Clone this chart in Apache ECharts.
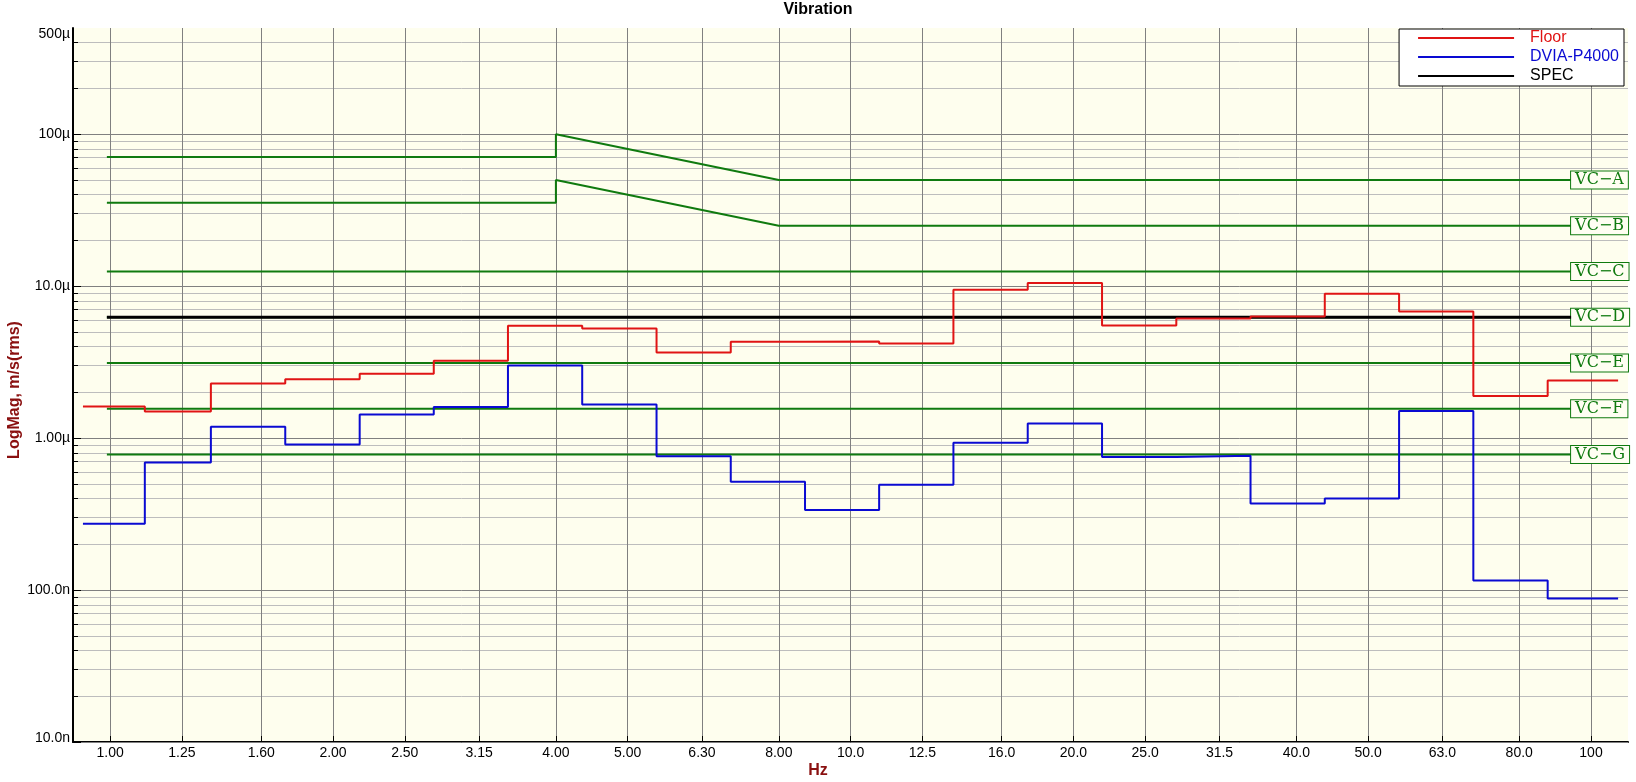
<!DOCTYPE html>
<html>
<head>
<meta charset="utf-8">
<script src="https://cdn.jsdelivr.net/npm/echarts@6/dist/echarts.min.js"></script>
<style>
html,body{margin:0;padding:0;background:#ffffff;}
#chart{width:1636px;height:782px;}
</style>
</head>
<body>
<div id="chart"></div>
<script>
// ---- data ----
// 1/3-octave nominal centre frequencies (Hz) and their tick labels
const bandHz = [1.00, 1.25, 1.60, 2.00, 2.50, 3.15, 4.00, 5.00, 6.30, 8.00, 10.0, 12.5, 16.0, 20.0, 25.0, 31.5, 40.0, 50.0, 63.0, 80.0, 100];
const bandLabels = ['1.00','1.25','1.60','2.00','2.50','3.15','4.00','5.00','6.30','8.00','10.0','12.5','16.0','20.0','25.0','31.5','40.0','50.0','63.0','80.0','100'];
// band step edges as drawn (Hz), 22 edges for 21 bands
const bandEdgesHz = [0.919, 1.114, 1.368, 1.724, 2.173, 2.736, 3.446, 4.341, 5.47, 6.89, 8.68, 10.93, 13.77, 17.35, 21.86, 27.54, 34.69, 43.7, 55.06, 69.36, 87.4, 108.8];
// band levels, µm/s rms
const floorUm = [1.615, 1.496, 2.287, 2.444, 2.649, 3.226, 5.48, 5.26, 3.66, 4.30, 4.33, 4.19, 9.46, 10.5, 5.50, 6.12, 6.31, 8.90, 6.81, 1.89, 2.39];
const dviaUm  = [0.273, 0.691, 1.186, 0.908, 1.429, 1.60, 3.00, 1.663, 0.761, 0.516, 0.3365, 0.493, 0.931, 1.247, 0.750, 0.765, 0.3715, 0.4005, 1.506, 0.1157, 0.0881];
// specification line and VC criteria curves: [Hz, µm/s]
const specCurve = [[0.99, 6.25], [94, 6.25]];
const vcNames = ['VC\u2212A', 'VC\u2212B', 'VC\u2212C', 'VC\u2212D', 'VC\u2212E', 'VC\u2212F', 'VC\u2212G'];
const vcA = [[0.99, 70.7], [4, 70.7], [4, 100], [8, 50], [94, 50]];
const vcB = [[0.99, 35.4], [4, 35.4], [4, 50], [8, 25], [94, 25]];
const vcC = [[0.99, 12.5], [94, 12.5]];
const vcD = [[0.99, 6.25], [94, 6.25]];
const vcE = [[0.99, 3.125], [94, 3.125]];
const vcF = [[0.99, 1.5625], [94, 1.5625]];
const vcG = [[0.99, 0.78], [94, 0.78]];
const vcCurves = [vcA, vcB, vcC, vcD, vcE, vcF, vcG];
// y axis ticks (m/s)
const yMajorValues = [1e-8, 1e-7, 1e-6, 1e-5, 1e-4];
const yLabelValues = [1e-8, 1e-7, 1e-6, 1e-5, 1e-4, 5e-4];
const yLabelTexts  = ['10.0n', '100.0n', '1.00\u00b5', '10.0\u00b5', '100\u00b5', '500\u00b5'];
const yMinorMultipliers = [2, 3, 4, 5, 6, 7, 8, 9];
const yMin = 1e-8, yMax = 5e-4;
const xMin = 0.891, xMax = 112.2;

// ---- build ----
const U = 1e-6;
const yMinorValues = [];
yMajorValues.forEach(d => yMinorMultipliers.forEach(m => { const v = +(d * m).toPrecision(3); if (v < yMax) yMinorValues.push(v); }));

function stepData(values) {
  const pts = bandEdgesHz.slice(0, values.length).map((f, i) => [f, values[i] * U]);
  pts.push([bandEdgesHz[values.length], values[values.length - 1] * U]);
  return pts;
}
const toSI = c => c.map(p => [p[0], p[1] * U]);

const GREEN = '#0f7a0f';
const RED = '#e01414';
const BLUE = '#0a0ad2';
const DARKRED = '#8a1010';
const FONT = '"Liberation Sans", Arial, sans-serif';

const series = [];
vcCurves.forEach((c, i) => {
  series.push({
    name: vcNames[i], type: 'line', data: toSI(c), showSymbol: false, symbol: 'none',
    lineStyle: { color: GREEN, width: 2 }, itemStyle: { color: GREEN }, z: 2,
    endLabel: {
      show: true, formatter: vcNames[i], distance: 0,
      color: GREEN, fontFamily: '"DejaVu Serif", serif', fontSize: 16,
      backgroundColor: '#fefef2', borderColor: GREEN, borderWidth: 1,
      padding: [1, 4, 0, 4]
    }
  });
});
series.push({
  name: 'SPEC', type: 'line', data: toSI(specCurve), showSymbol: false, symbol: 'none',
  lineStyle: { color: '#000', width: 3 }, itemStyle: { color: '#000' }, z: 3
});
series.push({
  name: 'Floor', type: 'line', step: 'end', data: stepData(floorUm), showSymbol: false, symbol: 'none',
  lineStyle: { color: RED, width: 2 }, itemStyle: { color: RED }, z: 4
});
series.push({
  name: 'DVIA-P4000', type: 'line', step: 'end', data: stepData(dviaUm), showSymbol: false, symbol: 'none',
  lineStyle: { color: BLUE, width: 2 }, itemStyle: { color: BLUE }, z: 5
});

function yLabel(val) {
  const i = yLabelValues.findIndex(v => Math.abs(Math.log10(v) - Math.log10(val)) < 1e-6);
  if (i < 0) return '';
  if (i === yLabelValues.length - 1) return '{top|' + yLabelTexts[i] + '}';
  if (i === 0) return '{bot|' + yLabelTexts[i] + '}';
  return yLabelTexts[i];
}
function xLabel(val) {
  const i = bandHz.findIndex(v => Math.abs(v - val) < 1e-6);
  return i < 0 ? '' : bandLabels[i];
}

const chart = echarts.init(document.getElementById('chart'), null, { renderer: 'canvas' });
chart.setOption({
  animation: false,
  backgroundColor: '#ffffff',
  textStyle: { fontFamily: FONT },
  title: [
    { text: 'Vibration', left: 'center', top: 2, padding: 0,
      textStyle: { fontSize: 16, fontWeight: 'bold', color: '#000', fontFamily: FONT } },
    { text: 'Hz', left: 'center', top: 763, padding: 0,
      textStyle: { fontSize: 16, fontWeight: 'bold', color: DARKRED, fontFamily: FONT } }
  ],
  legend: {
    data: [
      { name: 'Floor', textStyle: { color: RED } },
      { name: 'DVIA-P4000', textStyle: { color: BLUE } },
      { name: 'SPEC', textStyle: { color: '#000' } }
    ],
    orient: 'vertical', right: 12, top: 29,
    backgroundColor: '#ffffff', borderColor: '#000', borderWidth: 1, borderRadius: 0,
    padding: [1, 5, 2, 19], itemGap: 3, itemWidth: 96, itemHeight: 2, icon: 'rect',
    selectedMode: false,
    textStyle: { fontSize: 16, fontFamily: FONT, padding: [0, 0, 0, 11] }
  },
  grid: { left: 73, right: 8, top: 28, bottom: 40, show: true, backgroundColor: '#fefeee', borderWidth: 0,
    containLabel: false, outerBoundsMode: 'none' },
  xAxis: {
    type: 'log', logBase: 10, min: xMin, max: xMax,
    axisLine: { show: true, lineStyle: { color: '#000', width: 2 } },
    axisTick: { show: true, inside: true, length: 6, customValues: bandHz, lineStyle: { color: '#000', width: 1 } },
    axisLabel: { show: true, customValues: bandHz, formatter: xLabel, fontSize: 14, color: '#000', margin: 4, fontFamily: FONT },
    splitLine: { show: true, lineStyle: { color: '#808080', width: 1 } },
    minorTick: { show: false }, minorSplitLine: { show: false }
  },
  yAxis: [
    {
      type: 'log', logBase: 10, min: yMin, max: yMax, position: 'left', z: 1,
      name: 'LogMag, m/s(rms)', nameLocation: 'middle', nameGap: 50, nameMoveOverlap: false,
      nameTextStyle: { fontSize: 16, fontWeight: 'bold', color: DARKRED, fontFamily: FONT, padding: [0, 10, 0, 0] },
      axisLine: { show: true, lineStyle: { color: '#000', width: 2 } },
      axisTick: { show: true, inside: true, length: 8, customValues: yMajorValues, lineStyle: { color: '#000', width: 1 } },
      axisLabel: {
        show: true, customValues: yLabelValues, formatter: yLabel, fontSize: 14, color: '#000', margin: 3, fontFamily: FONT,
        rich: { top: { fontSize: 14, padding: [12, 0, 0, 0] }, bot: { fontSize: 14, padding: [0, 0, 8, 0] } }
      },
      splitLine: { show: true, lineStyle: { color: '#808080', width: 1 } }
    },
    {
      type: 'log', logBase: 10, min: yMin, max: yMax, position: 'left', z: 0,
      axisLine: { show: false },
      axisTick: { show: true, inside: true, length: 5, customValues: yMinorValues, lineStyle: { color: '#000', width: 1 } },
      axisLabel: { show: false },
      splitLine: { show: true, lineStyle: { color: '#bdbdbd', width: 1 } }
    }
  ],
  series: series
});
</script>
</body>
</html>
